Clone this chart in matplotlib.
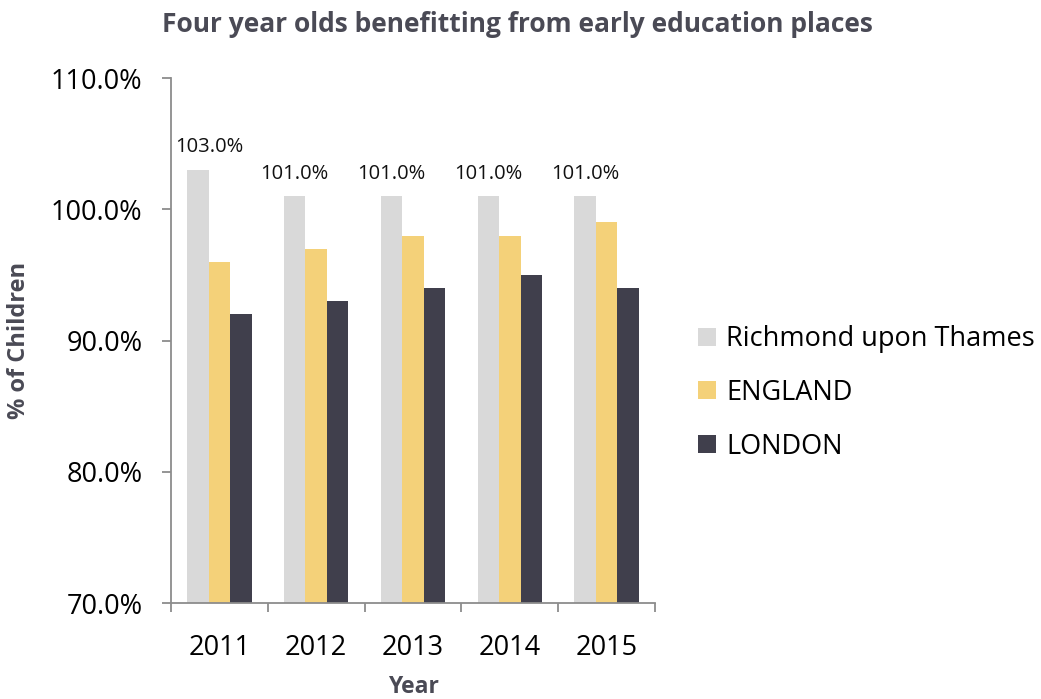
import numpy as np
import matplotlib
matplotlib.use("Agg")
import matplotlib.pyplot as plt

years = ["2011", "2012", "2013", "2014", "2015"]
richmond = [103.0, 101.0, 101.0, 101.0, 101.0]
england = [96.0, 97.0, 98.0, 98.0, 99.0]
london = [92.0, 93.0, 94.0, 95.0, 94.0]
series_names = ["Richmond upon Thames", "ENGLAND", "LONDON"]
colors = ["#D9D9D9", "#F4D179", "#403F4C"]

plt.rcParams["font.family"] = ["Open Sans", "DejaVu Sans"]

fig = plt.figure(figsize=(10.41, 6.99), dpi=100)
ax = fig.add_axes([0.1643, 0.1373, 0.4649, 0.7511])

x = np.arange(len(years))
w = 0.222
for i, (vals, name, col) in enumerate(zip([richmond, england, london], series_names, colors)):
    ax.bar(x + (i - 1) * w, vals, width=w, color=col, label=name, bottom=0)

# data labels on Richmond bars
for j, v in enumerate(richmond):
    dx = 8 if j == 0 else 0
    ax.annotate("%.1f%%" % v, (x[j] - w, v), xytext=(dx, 9), textcoords="offset points",
                ha="center", va="bottom", fontsize=14.5, color="#111111")

ax.set_ylim(70, 110)
ax.set_xlim(-0.5, len(years) - 0.5)
ax.set_yticks([70, 80, 90, 100, 110])
ax.set_yticklabels(["%.1f%%" % t for t in [70, 80, 90, 100, 110]], fontsize=19.5)
ax.set_xticks(x)
ax.set_xticklabels(years, fontsize=19.5)
ax.set_xticks(np.arange(len(years) + 1) - 0.5, minor=True)
ax.tick_params(axis="x", which="major", length=0, pad=22)
ax.tick_params(axis="x", which="minor", length=6.5, color="#8c8c8c", width=1.3)
ax.tick_params(axis="y", length=6.5, color="#8c8c8c", width=1.3, pad=14)
for s in ["top", "right"]:
    ax.spines[s].set_visible(False)
for s in ["left", "bottom"]:
    ax.spines[s].set_color("#8c8c8c")
    ax.spines[s].set_linewidth(1.3)

ax.set_ylabel("% of Children", fontsize=17, fontweight="bold", color="#4a4a55", labelpad=14)
ax.set_xlabel("Year", fontsize=16.5, fontweight="bold", color="#4a4a55", labelpad=10)
fig.text(0.497, 0.965, "Four year olds benefitting from early education places",
         ha="center", va="center", fontsize=19, fontweight="bold", color="#4a4a55")

ax.legend(loc="center left", bbox_to_anchor=(0.647, 0.438), bbox_transform=fig.transFigure,
          frameon=False, fontsize=19.5, handlelength=0.65, handleheight=0.65,
          handletextpad=0.4, labelspacing=0.95)

fig.savefig("out.png", dpi=100)
